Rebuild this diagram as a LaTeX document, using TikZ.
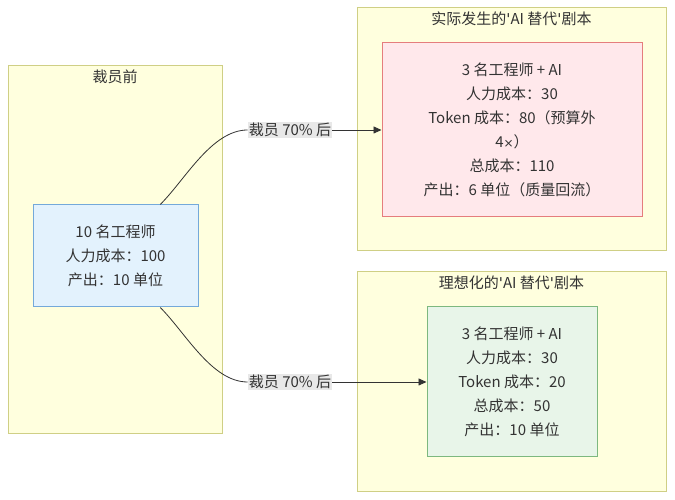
\documentclass[tikz,border=0pt]{standalone}
\usepackage{fontspec}
\setmainfont{Noto Sans CJK SC}
\newfontfamily\plainquote[Ligatures=ResetAll]{DejaVu Sans}
\definecolor{mmCluster}{HTML}{FFFFDE}
\definecolor{mmClusterLine}{HTML}{CFCF85}
\definecolor{mmBlue}{HTML}{E3F2FD}
\definecolor{mmBlueLine}{HTML}{74A9DA}
\definecolor{mmRed}{HTML}{FFE8EB}
\definecolor{mmRedLine}{HTML}{E57D7D}
\definecolor{mmGreen}{HTML}{E8F5E9}
\definecolor{mmGreenLine}{HTML}{7DB87F}
\definecolor{mmText}{HTML}{333333}
\definecolor{mmLabel}{HTML}{E8E8E8}
\usepackage{tikz}
\usetikzlibrary{positioning,arrows.meta}
\newcommand{\apos}{{\plainquote\symbol{"27}}}
\newcommand{\narrowx}{{\plainquote\fontsize{12}{24}\selectfont ×}}

\begin{document}
\begin{tikzpicture}[
      x=1pt, y=1pt,
      cluster/.style={rectangle, draw=mmClusterLine, fill=mmCluster, line width=1pt},
      title/.style={inner sep=0pt, text=mmText, font=\fontsize{15}{20}\selectfont},
      box/.style={rectangle, line width=1pt, align=center, inner sep=0pt,
                  text=mmText, font=\fontsize{15}{24}\selectfont},
      edgelabel/.style={fill=mmLabel, inner sep=1pt, text=mmText,
                  font=\fontsize{15}{20}\selectfont},
      link/.style={draw=mmText, line width=0.8pt},
      arrow/.style={-{Triangle[length=8pt,width=7pt]}, draw=mmText, line width=0.8pt}
    ]
    \useasboundingbox (0,0) rectangle (675,500);

    % subgraphs
    \node[cluster, minimum width=214pt, minimum height=368pt] (before) at (115,250) {};
    \node[cluster, minimum width=309pt, minimum height=243pt] (actual) at (511.5,370.5) {};
    \node[cluster, minimum width=309pt, minimum height=220pt] (ideal) at (511.5,118) {};
    \node[title, below=4pt of before.north] {裁员前};
    \node[title, below=4pt of actual.north] {实际发生的\apos AI 替代\apos 剧本};
    \node[title, below=4pt of ideal.north] {理想化的\apos AI 替代\apos 剧本};

    % nodes
    \node[box, fill=mmBlue, draw=mmBlueLine, minimum width=165pt, minimum height=102pt]
      (old) at (115.5,244) {10 名工程师\\人力成本：100\\产出：10 单位};
    \node[box, fill=mmRed, draw=mmRedLine, minimum width=260pt, minimum height=174pt]
      (real) at (512,370) {3 名工程师 + AI\\人力成本：30\\Token 成本：80（预算外\\4\narrowx）\\总成本：110\\产出：6 单位（质量回流）};
    \node[box, fill=mmGreen, draw=mmGreenLine, minimum width=170pt, minimum height=150pt]
      (dream) at (512,118) {3 名工程师 + AI\\人力成本：30\\Token 成本：20\\总成本：50\\产出：10 单位};

    \node[edgelabel] (cut1) at (290,370) {裁员 70\% 后};
    \node[edgelabel] (cut2) at (290,118) {裁员 70\% 后};

    \draw[link] (old.49) to[out=45, in=180, looseness=0.8] (cut1);
    \draw[arrow] (cut1) -- (real);
    \draw[link] (old.-49) to[out=-45, in=180, looseness=0.8] (cut2);
    \draw[arrow] (cut2) -- (dream);
  \end{tikzpicture}
\end{document}
